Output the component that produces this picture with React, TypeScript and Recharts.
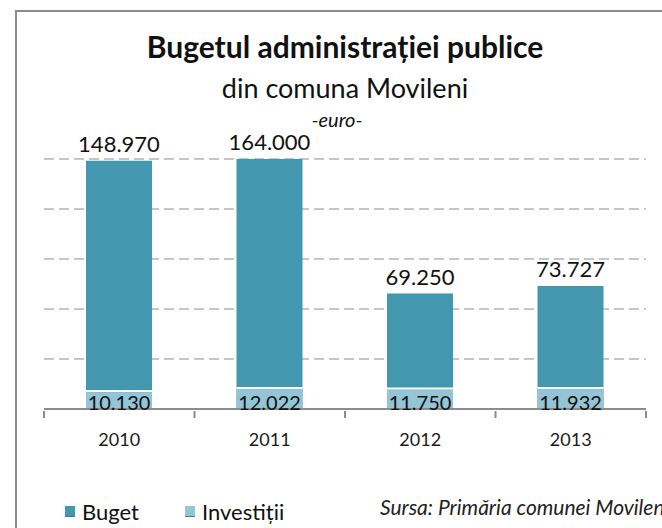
import { Bar, BarChart, CartesianGrid, LabelList, Legend, XAxis, YAxis } from "recharts";

const YEARS = ["2010", "2011", "2012", "2013"];
const BUGET = [148970, 164000, 69250, 73727];
const INVESTITII = [10130, 12022, 11750, 11932];
const Y_TICKS = [0, 30000, 60000, 90000, 120000, 150000];

const BUGET_COLOR = "#4397ae";
const INV_COLOR = "#93c5d6";
const FONT = "Lato, 'Open Sans', sans-serif";

const PLOT_TOP = 159;
const PLOT_LEFT = 44;
const PLOT_RIGHT = 646;
const BAND = (PLOT_RIGHT - PLOT_LEFT) / YEARS.length;

const rows = YEARS.map((year, i) => ({
  year,
  buget: BUGET[i],
  investitii: INVESTITII[i],
}));

function formatRo(value: number) {
  return value.toLocaleString("de-DE");
}

function YearTick(props: any) {
  const { x, y, payload, index } = props;
  const isLast = index === YEARS.length - 1;
  return (
    <g>
      <line x1={x - BAND / 2} x2={x - BAND / 2} y1={y} y2={y + 7} stroke="#8c8c8c" strokeWidth={2} />
      {isLast ? (
        <line x1={x + BAND / 2} x2={x + BAND / 2} y1={y} y2={y + 7} stroke="#8c8c8c" strokeWidth={2} />
      ) : null}
      <text x={x} y={y + 35} textAnchor="middle" fontSize={18} fill="#1a1a1a" fontFamily={FONT}>
        {payload.value}
      </text>
    </g>
  );
}

function BugetLabel(props: any) {
  const { x, y, width, value } = props;
  const top = Math.max(y, PLOT_TOP);
  return (
    <text x={x + width / 2} y={top - 9} textAnchor="middle" fontSize={22} fill="#111" fontFamily={FONT}>
      {formatRo(value)}
    </text>
  );
}

function InvLabel(props: any) {
  const { x, y, width, height, value } = props;
  return (
    <text x={x + width / 2} y={y + height + 1} textAnchor="middle" fontSize={20} fill="#111" fontFamily={FONT}>
      {formatRo(value)}
    </text>
  );
}

function InvShape(props: any) {
  const { x, y, width, height } = props;
  return (
    <g>
      <rect x={x} y={y} width={width} height={height} fill={INV_COLOR} />
      <line x1={x} x2={x + width} y1={y - 1} y2={y - 1} stroke="#fff" strokeWidth={2} />
    </g>
  );
}

function LegendContent() {
  const items = [
    { label: "Buget", color: BUGET_COLOR, left: 65 },
    { label: "Investiții", color: INV_COLOR, left: 185 },
  ];
  return (
    <div style={{ position: "relative", height: 30 }}>
      {items.map((item) => (
        <div key={item.label} style={{ position: "absolute", left: item.left, top: 0, display: "flex", alignItems: "center" }}>
          <span
            style={{
              display: "inline-block",
              width: 10,
              height: 10,
              background: item.color,
              borderBottom: "1px solid #3a7f92",
              marginRight: 7,
            }}
          />
          <span style={{ fontSize: 22, color: "#111", fontFamily: FONT }}>{item.label}</span>
        </div>
      ))}
    </div>
  );
}

export default function App() {
  return (
    <div
      style={{
        position: "fixed",
        left: 0,
        top: 0,
        width: 662,
        height: 528,
        overflow: "hidden",
        background: "#fff",
        fontFamily: FONT,
      }}
    >
      <div
        style={{
          position: "absolute",
          left: 15,
          top: 10,
          width: 700,
          height: 600,
          borderLeft: "2px solid #8a8a8a",
          borderTop: "2px solid #8a8a8a",
        }}
      />
      <div style={{ position: "absolute", left: 0, width: 690, top: 28, textAlign: "center", fontSize: 30, fontWeight: 700, color: "#111" }}>
        Bugetul administrației publice
      </div>
      <div style={{ position: "absolute", left: 0, width: 690, top: 71, textAlign: "center", fontSize: 27, color: "#111" }}>
        din comuna Movileni
      </div>
      <div style={{ position: "absolute", left: 0, width: 674, top: 107, textAlign: "center", fontSize: 20, fontStyle: "italic", color: "#111" }}>
        -euro-
      </div>
      <div style={{ position: "absolute", left: 0, top: 0 }}>
        <BarChart
          width={662}
          height={528}
          data={rows}
          margin={{ top: PLOT_TOP, right: 662 - PLOT_RIGHT, left: PLOT_LEFT, bottom: 49 }}
        >
          <CartesianGrid vertical={false} strokeDasharray="10 5" stroke="#c6c6c6" strokeWidth={2} />
          <XAxis
            xAxisId="b"
            dataKey="year"
            height={40}
            axisLine={{ stroke: "#8c8c8c", strokeWidth: 2 }}
            tickLine={false}
            tickSize={0}
            tick={<YearTick />}
            interval={0}
          />
          <XAxis xAxisId="i" dataKey="year" hide />
          <YAxis hide domain={[0, 150000]} ticks={Y_TICKS} allowDataOverflow />
          <Legend
            verticalAlign="bottom"
            content={<LegendContent />}
            wrapperStyle={{ left: 0, top: 498, width: 662 }}
          />
          <Bar xAxisId="b" dataKey="buget" name="Buget" fill={BUGET_COLOR} barSize={66} isAnimationActive={false}>
            <LabelList dataKey="buget" content={<BugetLabel />} />
          </Bar>
          <Bar
            xAxisId="i"
            dataKey="investitii"
            name="Investiții"
            fill={INV_COLOR}
            barSize={66}
            shape={<InvShape />}
            isAnimationActive={false}
          >
            <LabelList dataKey="investitii" content={<InvLabel />} />
          </Bar>
        </BarChart>
      </div>
      <div style={{ position: "absolute", left: 380, top: 494, fontSize: 21, fontStyle: "italic", color: "#222", whiteSpace: "nowrap" }}>
        Sursa: Primăria comunei Movileni
      </div>
    </div>
  );
}
